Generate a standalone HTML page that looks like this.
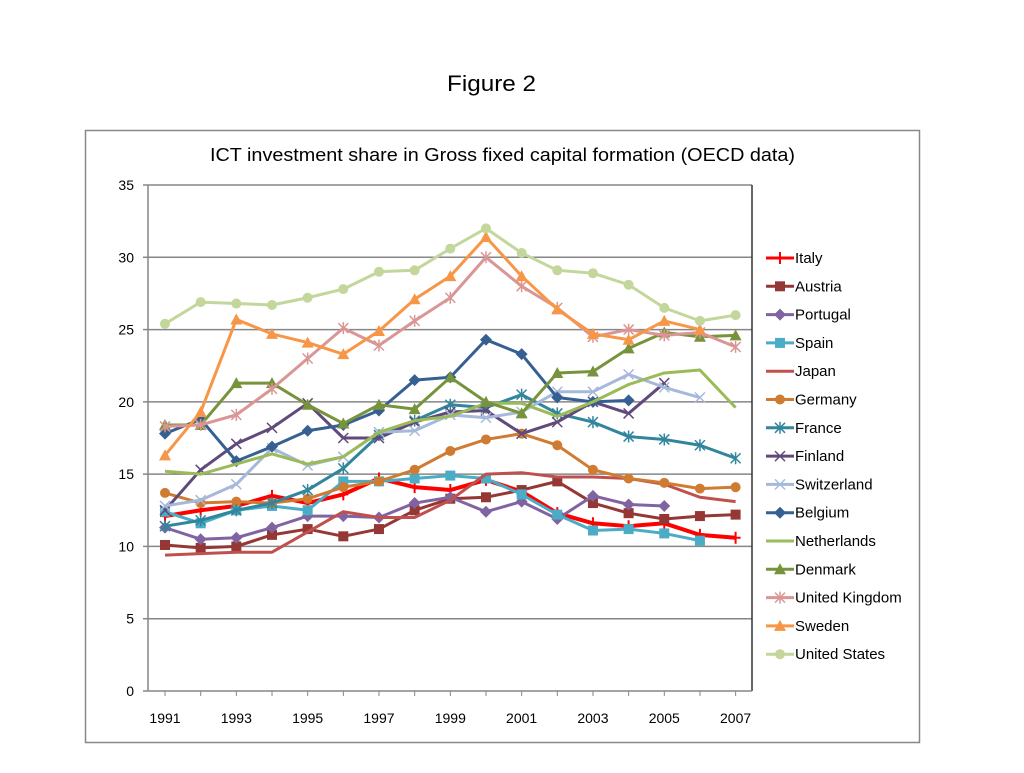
<!DOCTYPE html>
<html><head><meta charset="utf-8"><style>
body{margin:0;background:#fff;font-family:"Liberation Sans",sans-serif}
</style></head><body>
<svg id="c" width="1024" height="768" xmlns="http://www.w3.org/2000/svg" font-family="Liberation Sans, sans-serif">
<text x="447" y="91" font-size="22" textLength="89" lengthAdjust="spacingAndGlyphs">Figure 2</text>
<rect x="85.5" y="130.5" width="834" height="612" fill="none" stroke="#888" stroke-width="1.5"/>
<text x="210" y="161" font-size="18" textLength="585" lengthAdjust="spacingAndGlyphs">ICT investment share in Gross fixed capital formation (OECD data)</text>
<g id="grid"></g><g id="series"></g><g id="legend"></g>
</svg>
<script>
const years=[1991,1992,1993,1994,1995,1996,1997,1998,1999,2000,2001,2002,2003,2004,2005,2006,2007];
const xTicks=[1991,1993,1995,1997,1999,2001,2003,2005,2007];
const yTicks=[0,5,10,15,20,25,30,35];
const names=["Italy","Austria","Portugal","Spain","Japan","Germany","France","Finland","Switzerland","Belgium","Netherlands","Denmark","United Kingdom","Sweden","United States"];
const italy=[12.1,12.5,12.8,13.5,13.0,13.6,14.7,14.1,13.9,14.6,13.8,12.3,11.6,11.4,11.6,10.8,10.6];
const austria=[10.1,9.9,10.0,10.8,11.2,10.7,11.2,12.5,13.3,13.4,13.9,14.5,13.0,12.3,11.9,12.1,12.2];
const portugal=[11.3,10.5,10.6,11.3,12.1,12.1,12.0,13.0,13.4,12.4,13.1,11.9,13.5,12.9,12.8];
const spain=[12.4,11.6,12.5,12.8,12.5,14.5,14.5,14.7,14.9,14.7,13.6,12.2,11.1,11.2,10.9,10.4];
const japan=[9.4,9.5,9.6,9.6,11.0,12.4,12.0,12.0,13.2,15.0,15.1,14.8,14.8,14.7,14.3,13.4,13.1];
const germany=[13.7,13.0,13.1,13.0,13.3,14.1,14.5,15.3,16.6,17.4,17.8,17.0,15.3,14.7,14.4,14.0,14.1];
const france=[11.4,11.8,12.5,13.0,13.9,15.4,17.7,18.7,19.8,19.6,20.5,19.2,18.6,17.6,17.4,17.0,16.1];
const finland=[12.5,15.3,17.1,18.2,19.9,17.5,17.5,18.6,19.3,19.4,17.8,18.6,20.0,19.2,21.3];
const switzerland=[12.8,13.2,14.3,16.8,15.6,16.2,17.9,18.0,19.1,18.9,19.3,20.7,20.7,21.9,21.0,20.3];
const belgium=[17.8,18.8,15.9,16.9,18.0,18.4,19.4,21.5,21.7,24.3,23.3,20.3,20.0,20.1];
const netherlands=[15.2,15.0,15.7,16.4,15.7,16.2,17.9,18.7,19.0,19.9,19.9,19.0,20.0,21.2,22.0,22.2,19.6];
const denmark=[18.4,18.4,21.3,21.3,19.8,18.5,19.8,19.5,21.7,20.0,19.2,22.0,22.1,23.7,24.8,24.5,24.6];
const uk=[18.3,18.4,19.1,20.9,23.0,25.1,23.9,25.6,27.2,30.0,28.0,26.5,24.5,25.0,24.6,24.8,23.8];
const sweden=[16.3,19.3,25.7,24.7,24.1,23.3,24.9,27.1,28.7,31.4,28.7,26.4,24.7,24.3,25.6,25.0];
const us=[25.4,26.9,26.8,26.7,27.2,27.8,29.0,29.1,30.6,32.0,30.3,29.1,28.9,28.1,26.5,25.6,26.0];
const seriesData=[italy,austria,portugal,spain,japan,germany,france,finland,switzerland,belgium,netherlands,denmark,uk,sweden,us];
const colors=["#FF0000","#953735","#8064A2","#4BACC6","#C0504D","#D07B32","#31859C","#604A7B","#A6B9DA","#376092","#9BBB59","#77933C","#D99694","#F79646","#C3D69B"];
const markers=["plus","square","diamond","square","none","circle","star","x","x","diamond","none","triangle","star","triangle","circle"];
const NS="http://www.w3.org/2000/svg";
const X0=148,X1=752,Y0=691,Y1=185;
const xs=y=>165+(y-1991)*(735.6-165)/16;
const ys=v=>Y0-(v/35)*(Y0-Y1);
function mk(t,a,p){const e=document.createElementNS(NS,t);for(const k in a)e.setAttribute(k,a[k]);p.appendChild(e);return e;}
const grid=document.getElementById('grid');
yTicks.forEach(v=>{const y=ys(v);
 if(v>0){const l=mk('line',{x1:X0,x2:X1,y1:y,y2:y,stroke:'#868686','stroke-width':1.5},grid);
 
 }
 mk('line',{x1:X0-5,x2:X0,y1:y,y2:y,stroke:'#868686','stroke-width':1.5},grid);
 const t=mk('text',{x:X0-14,y:y+5,'font-size':14,'text-anchor':'end'},grid);t.textContent=v;
 
 
});
mk('line',{x1:X0,x2:X0,y1:Y1,y2:Y0,stroke:'#868686','stroke-width':1.5},grid);
mk('line',{x1:X1,x2:X1,y1:Y1,y2:Y0,stroke:'#333','stroke-width':1.5},grid);
mk('line',{x1:X0,x2:X1,y1:Y0,y2:Y0,stroke:'#868686','stroke-width':1.5},grid);
years.forEach(yr=>{const x=(xs(yr)+xs(yr+1))/2-17.8; mk('line',{x1:x,x2:x,y1:Y0,y2:Y0+5,stroke:'#868686'},grid);});
xTicks.forEach(yr=>{const t=mk('text',{x:xs(yr),y:723,'font-size':14,'text-anchor':'middle'},grid);t.textContent=yr;
 
 });
function marker(type,x,y,c,p){
 if(type==='circle')mk('circle',{cx:x,cy:y,r:5,fill:c},p);
 else if(type==='square')mk('rect',{x:x-5,y:y-5,width:10,height:10,fill:c},p);
 else if(type==='diamond')mk('polygon',{points:`${x},${y-6} ${x+6},${y} ${x},${y+6} ${x-6},${y}`,fill:c},p);
 else if(type==='triangle')mk('polygon',{points:`${x},${y-6} ${x+6},${y+5} ${x-6},${y+5}`,fill:c},p);
 else if(type==='plus')mk('path',{d:`M${x-5} ${y}H${x+5}M${x} ${y-6}V${y+6}`,stroke:c,'stroke-width':2},p);
 else if(type==='x')mk('path',{d:`M${x-5} ${y-5}L${x+5} ${y+5}M${x-5} ${y+5}L${x+5} ${y-5}`,stroke:c,'stroke-width':1.5},p);
 else if(type==='star')mk('path',{d:`M${x-5} ${y-5}L${x+5} ${y+5}M${x-5} ${y+5}L${x+5} ${y-5}M${x} ${y-6}V${y+6}`,stroke:c,'stroke-width':1.5},p);
}
const sg=document.getElementById('series'),lg=document.getElementById('legend');
seriesData.forEach((d,i)=>{
 const g=mk('g',{},sg);
 
 
 const pts=d.map((v,j)=>xs(years[j])+','+ys(v)).join(' ');
 mk('polyline',{points:pts,fill:'none',stroke:colors[i],'stroke-width':i===0?4:3,'stroke-linejoin':'round'},g);
 d.forEach((v,j)=>marker(markers[i],xs(years[j]),ys(v),colors[i],g));
 const ly=258+i*28.3;
 const le=mk('g',{},lg);
 
 
 mk('line',{x1:766,x2:794,y1:ly,y2:ly,stroke:colors[i],'stroke-width':3},le);
 marker(markers[i],780,ly,colors[i],le);
 const t=mk('text',{x:795,y:ly+5,'font-size':15},le);t.textContent=names[i];
});
</script>
</body></html>
